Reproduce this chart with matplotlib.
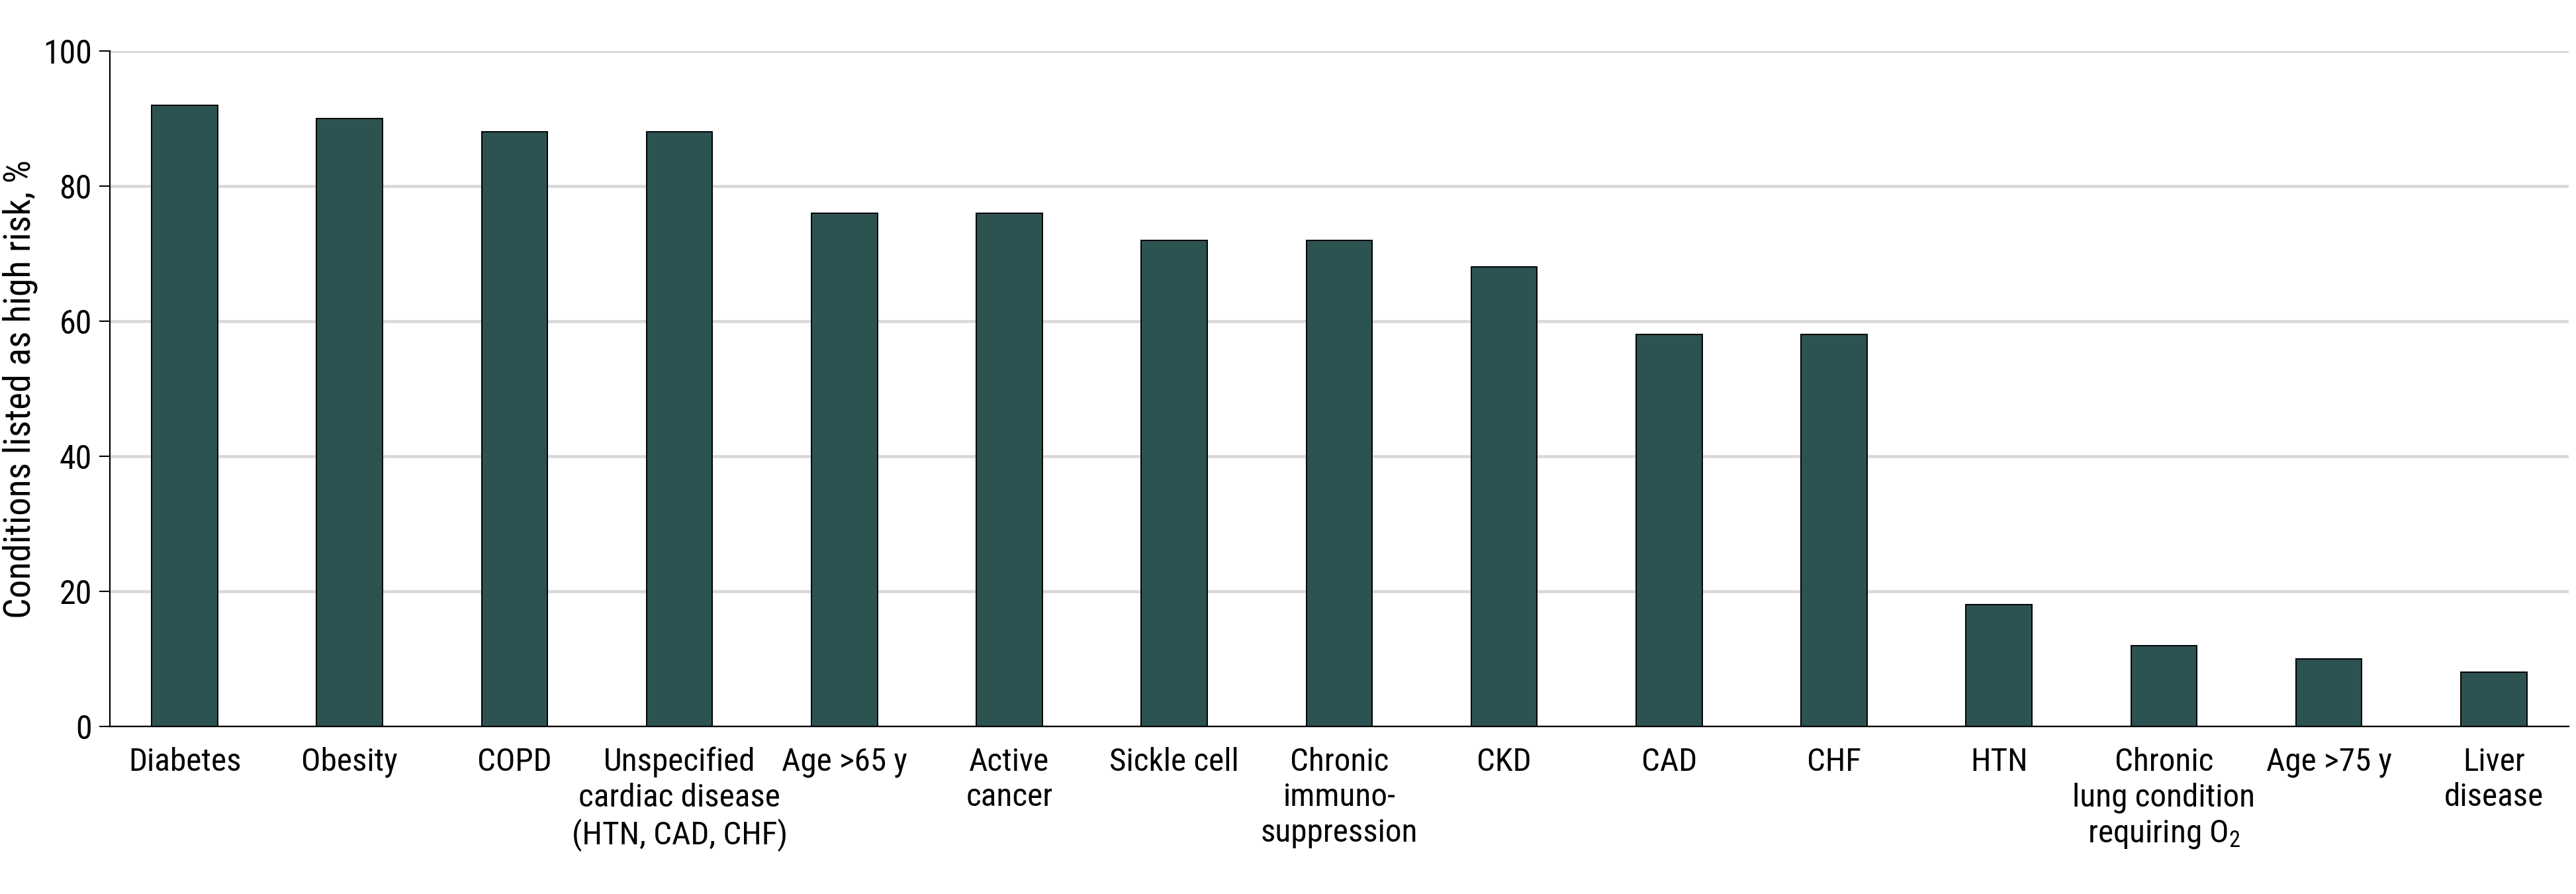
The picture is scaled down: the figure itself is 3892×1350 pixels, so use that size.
import matplotlib
matplotlib.use("Agg")
import matplotlib.pyplot as plt
from matplotlib import font_manager

# ---- data ----
categories = [
    "Diabetes", "Obesity", "COPD", "Unspecified\ncardiac disease\n(HTN, CAD, CHF)",
    "Age >65 y", "Active\ncancer", "Sickle cell", "Chronic\nimmuno-\nsuppression",
    "CKD", "CAD", "CHF", "HTN", "Chronic\nlung condition\nrequiring O$_2$",
    "Age >75 y", "Liver\ndisease",
]
values = [92, 90, 88, 88, 76, 76, 72, 72, 68, 58, 58, 18, 12, 10, 8]
yticks = [0, 20, 40, 60, 80, 100]
ylabel = "Conditions listed as high risk, %"

# ---- font choice ----
available = {f.name for f in font_manager.fontManager.ttflist}
prefs = [("Roboto Condensed", 1.0), ("Liberation Sans Narrow", 1.03),
         ("DejaVu Sans Condensed", 0.94), ("Liberation Sans", 0.94), ("DejaVu Sans", 0.88)]
fam, k = "DejaVu Sans", 0.88
for name, sc in prefs:
    if name in available:
        fam, k = name, sc
        break
plt.rcParams["font.family"] = [fam, "DejaVu Sans"]
plt.rcParams["mathtext.fontset"] = "custom"
plt.rcParams["mathtext.rm"] = fam
plt.rcParams["mathtext.default"] = "rm"

xfs = 35.5 * k
yfs = 36 * k
lfs = 40 * k

W, H = 3892, 1350
fig = plt.figure(figsize=(W / 100, H / 100), dpi=100)
left, right, top, bottom = 166, 3881, 77, 1097
ax = fig.add_axes([left / W, 1 - bottom / H, (right - left) / W, (bottom - top) / H])

x = list(range(len(categories)))
ax.bar(x, values, width=0.4, color="#2c5352", edgecolor="black", linewidth=1.4, zorder=3)

ax.set_xlim(-0.4535, 14.454)
ax.set_ylim(0, 100)
ax.set_yticks(yticks)
ax.set_yticklabels([str(t) for t in yticks], fontsize=yfs)
ax.set_xticks(x)
ax.set_xticklabels(categories, fontsize=xfs, linespacing=1.22)
ax.tick_params(axis="x", length=0, pad=22)
ax.tick_params(axis="y", length=11.5, width=1.5, pad=8, direction="out")

ax.grid(axis="y", color="#d9d9d9", linewidth=3.3, zorder=0)
ax.set_axisbelow(True)
for s in ["top", "right"]:
    ax.spines[s].set_visible(False)
for s in ["left", "bottom"]:
    ax.spines[s].set_linewidth(1.6)
    ax.spines[s].set_zorder(4)

fig.text(30 / W, 1 - 934 / H, ylabel, rotation=90, ha="center", va="bottom", fontsize=lfs)

fig.savefig("out.png", dpi=100)
